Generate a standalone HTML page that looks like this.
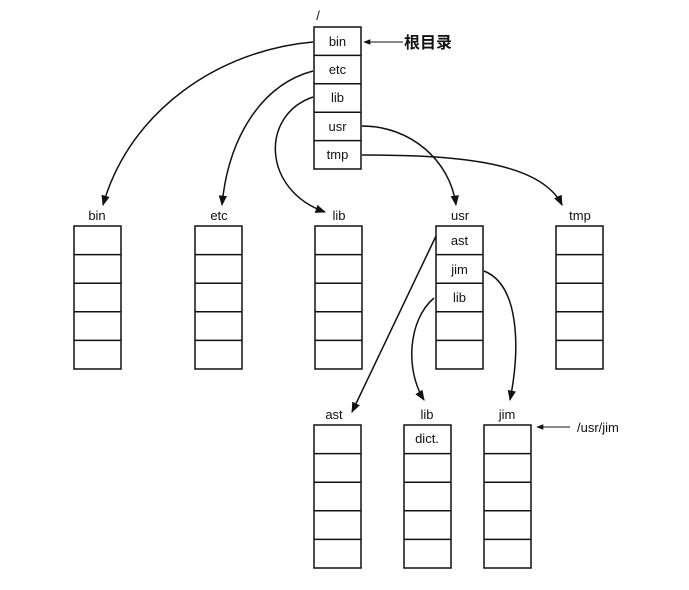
<!DOCTYPE html>
<html><head><meta charset="utf-8"><style>
html,body{margin:0;padding:0;background:#fff;}
</style></head><body>
<svg width="689" height="585" viewBox="0 0 689 585" xmlns="http://www.w3.org/2000/svg" font-family="Liberation Sans, sans-serif" font-size="13" fill="#111">
<defs>
<marker id="a" viewBox="0 0 10 10" refX="9" refY="5" markerWidth="7" markerHeight="7" orient="auto"><path d="M0,1 L10,5 L0,9 z" fill="#111"/></marker>
</defs>
<g stroke="#111" stroke-width="1.5" fill="none">
<!-- root -->
<rect x="314" y="27" width="47" height="142"/>
<line x1="314" y1="55.4" x2="361" y2="55.4"/><line x1="314" y1="83.8" x2="361" y2="83.8"/><line x1="314" y1="112.2" x2="361" y2="112.2"/><line x1="314" y1="140.6" x2="361" y2="140.6"/>
<!-- row 2 -->
<g id="col">
<rect x="74" y="226" width="47" height="143"/>
<line x1="74" y1="254.6" x2="121" y2="254.6"/><line x1="74" y1="283.2" x2="121" y2="283.2"/><line x1="74" y1="311.8" x2="121" y2="311.8"/><line x1="74" y1="340.4" x2="121" y2="340.4"/>
</g>
<use href="#col" x="121"/><use href="#col" x="241"/><use href="#col" x="362"/><use href="#col" x="482"/>
<use href="#col" x="240" y="199"/><use href="#col" x="330" y="199"/><use href="#col" x="410" y="199"/>
<!-- arrows -->
<path d="M313,42 C220,50 130,110 103,205" marker-end="url(#a)"/>
<path d="M313,71 C260,85 228,140 222,205" marker-end="url(#a)"/>
<path d="M313,97 C260,115 262,190 325,212" marker-end="url(#a)"/>
<path d="M362,126 C410,126 450,160 456,205" marker-end="url(#a)"/>
<path d="M362,155 C450,155 540,160 562,205" marker-end="url(#a)"/>
<path d="M436,236 L352,412" marker-end="url(#a)"/>
<path d="M434,298 C408,320 405,370 424,400" marker-end="url(#a)"/>
<path d="M484,271 C520,285 520,350 510,400" marker-end="url(#a)"/>
<path d="M403,42 L364,42" stroke-width="1" marker-end="url(#a)"/>
<path d="M570,427 L537,427" stroke-width="1" marker-end="url(#a)"/>
</g>
<g text-anchor="middle">
<text x="318" y="20">/</text>
<text x="337.5" y="46">bin</text><text x="337.5" y="74">etc</text><text x="337.5" y="102">lib</text><text x="337.5" y="131">usr</text><text x="337.5" y="159">tmp</text>
<text x="97" y="220">bin</text><text x="219" y="220">etc</text><text x="339" y="220">lib</text><text x="460" y="220">usr</text><text x="580" y="220">tmp</text>
<text x="459.5" y="245">ast</text><text x="459.5" y="274">jim</text><text x="459.5" y="302">lib</text>
<text x="334" y="419">ast</text><text x="427" y="419">lib</text><text x="507" y="419">jim</text>
<text x="427" y="443">dict.</text>
</g>
<text x="577" y="432">/usr/jim</text>
<text x="404" y="48" font-family="Liberation Sans, Noto Sans CJK SC, sans-serif" font-size="16" font-weight="bold">根目录</text>
</svg>
</body></html>
